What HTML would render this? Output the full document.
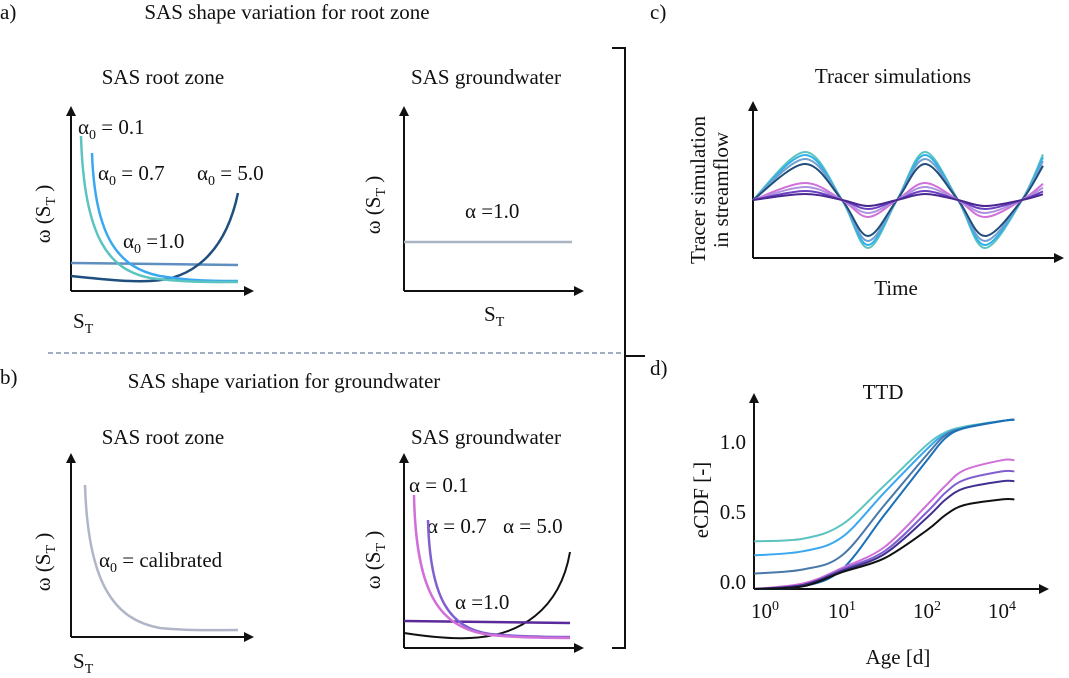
<!DOCTYPE html>
<html><head><meta charset="utf-8"><style>
body{margin:0;background:#fff;}
svg{display:block;}
svg text{font-family:"Liberation Serif","Noto Serif CJK SC","DejaVu Serif",serif !important;fill:#111;}
</style></head><body>
<svg id="fig" width="1069" height="678" viewBox="0 0 1069 678">
<defs><marker id="ar" markerWidth="10" markerHeight="10" refX="8" refY="5" orient="auto" markerUnits="userSpaceOnUse"><path d="M0,0 L10,5 L0,10 Z" fill="#111"/></marker></defs>
<g font-size="21">
<text x="0" y="19">a)</text>
<text x="287" y="19" text-anchor="middle">SAS shape variation for root zone</text>
<text x="0" y="384">b)</text>
<text x="284" y="388" text-anchor="middle">SAS shape variation for groundwater</text>
<text x="650" y="19">c)</text>
<text x="650" y="375">d)</text>
<text x="163" y="84" text-anchor="middle">SAS root zone</text>
<text x="486" y="84" text-anchor="middle">SAS groundwater</text>
<text x="163" y="444" text-anchor="middle">SAS root zone</text>
<text x="486" y="444" text-anchor="middle">SAS groundwater</text>
<text x="893" y="83" text-anchor="middle">Tracer simulations</text>
<text x="883" y="399" text-anchor="middle">TTD</text>
</g>
<line x1="48" y1="353" x2="622" y2="353" stroke="#8090b0" stroke-width="1.5" stroke-dasharray="5,3"/>
<path d="M612,48 H625 V648 H612 M625,356 H645" fill="none" stroke="#111" stroke-width="2"/>
<g stroke="#111" stroke-width="2" fill="none" marker-end="url(#ar)">
<path d="M71,291 V108"/><path d="M71,291 H252"/>
<path d="M404,291 V108"/><path d="M404,291 H582"/>
<path d="M71,637 V455"/><path d="M71,637 H252"/>
<path d="M404,648 V455"/><path d="M404,648 H582"/>
<path d="M753,258 V103"/><path d="M753,258 H1062"/>
<path d="M754,589 V395"/><path d="M754,589 H1047"/>
</g>
<g font-size="21">
<text transform="translate(50,214) rotate(-90)" text-anchor="middle">ω (S<tspan font-size="14" dy="5">T</tspan><tspan dy="-5"> )</tspan></text>
<text transform="translate(380,205) rotate(-90)" text-anchor="middle">ω (S<tspan font-size="14" dy="5">T</tspan><tspan dy="-5"> )</tspan></text>
<text transform="translate(50,562) rotate(-90)" text-anchor="middle">ω (S<tspan font-size="14" dy="5">T</tspan><tspan dy="-5"> )</tspan></text>
<text transform="translate(380,560) rotate(-90)" text-anchor="middle">ω (S<tspan font-size="14" dy="5">T</tspan><tspan dy="-5"> )</tspan></text>
<text x="73" y="328">S<tspan font-size="14" dy="5">T</tspan></text>
<text x="484" y="321">S<tspan font-size="14" dy="5">T</tspan></text>
<text x="73" y="668">S<tspan font-size="14" dy="5">T</tspan></text>
<text transform="translate(705,190) rotate(-90)" text-anchor="middle">Tracer simulation</text>
<text transform="translate(728,190) rotate(-90)" text-anchor="middle">in streamflow</text>
<text x="896" y="295" text-anchor="middle">Time</text>
<text transform="translate(708,500) rotate(-90)" text-anchor="middle">eCDF [-]</text>
<text x="898" y="664" text-anchor="middle">Age [d]</text>
<text x="78" y="134">α<tspan font-size="14" dy="5">0</tspan><tspan dy="-5"> = 0.1</tspan></text>
<text x="98" y="180">α<tspan font-size="14" dy="5">0</tspan><tspan dy="-5"> = 0.7</tspan></text>
<text x="197" y="180">α<tspan font-size="14" dy="5">0</tspan><tspan dy="-5"> = 5.0</tspan></text>
<text x="123" y="248">α<tspan font-size="14" dy="5">0</tspan><tspan dy="-5"> =1.0</tspan></text>
<text x="465" y="218">α =1.0</text>
<text x="99" y="567">α<tspan font-size="14" dy="5">0</tspan><tspan dy="-5"> = calibrated</tspan></text>
<text x="409" y="492">α = 0.1</text>
<text x="427" y="533">α = 0.7</text>
<text x="503" y="533">α = 5.0</text>
<text x="455" y="609">α =1.0</text>
</g>
<g fill="none" stroke-width="2.5">
<path d="M71,263 L238,265" stroke="#5f8fc0"/>
<path d="M71,276 C110,280 130,282 150,281 C190,280 225,255 238,193" stroke="#1f4f7f"/>
<path d="M92,153 C95,240 120,268 160,276 C190,281 215,281 238,281" stroke="#3aa8f0"/>
<path d="M81,136 C84,240 110,270 150,278 C190,283 215,282 238,282" stroke="#5cc4c0"/>
<path d="M404,242 L572,242" stroke="#a9b4c2"/>
<path d="M85,485 C88,585 115,620 160,628 C190,631 215,630 238,630" stroke="#b0b6c8"/>
<path d="M404,633 C430,637 450,639 470,638 C520,636 560,610 570,552" stroke="#111" stroke-width="2"/>
<path d="M404,621 L570,623" stroke="#5a2a9a"/>
<path d="M428,520 C430,600 450,628 490,634 C520,637 550,637 570,637" stroke="#8060d0"/>
<path d="M414,495 C416,595 440,628 490,635 C520,638 550,638 570,638" stroke="#d070d8"/>
</g>
<g id="tracer" fill="none" stroke-width="2"></g>
<g id="ttd" fill="none" stroke-width="2"></g>
<g id="ttdticks" font-size="21"></g>
</svg>
<script>
// Panel c data
const tracerTimes=[0,5.2,8.9,11.5,14.4,17.2,20.5,23.2,26.9,29];
const tracerWave=[0,1,0,-1,0,1,0,-1,0,0.95];
const tracerAmps=[48,45,41,36,17,13,9,6];
const tracerColors=["#5cc4c0","#30b0e8","#70a0d0","#204e7a","#d070d8","#b090e0","#6a40c0","#4a2890"];
// Panel d data
const ttdLogAge=[-0.14,0.5,1,1.5,2,2.5,3,4,4.33];
const ttdSeries=[
[0.29,0.31,0.41,0.69,0.98,1.07,1.11,1.15,1.16],
[0.19,0.22,0.32,0.64,0.95,1.06,1.10,1.15,1.16],
[0.06,0.09,0.19,0.55,0.91,1.05,1.10,1.15,1.16],
[-0.05,-0.03,0.09,0.48,0.87,1.03,1.10,1.15,1.16],
[-0.05,-0.01,0.10,0.25,0.55,0.69,0.80,0.87,0.87],
[-0.05,-0.02,0.09,0.22,0.50,0.64,0.73,0.79,0.79],
[-0.05,-0.02,0.08,0.20,0.46,0.59,0.67,0.72,0.72],
[-0.05,-0.03,0.07,0.17,0.37,0.48,0.55,0.59,0.59]];
const ttdColors=["#5cc4c0","#3aa8f0","#4a78a8","#1a70b8","#d070d8","#8060d0","#403090","#111"];
const ttdYTicks=[0,0.5,1.0];
const ttdXTicks=[0,1,2,4];
const ttdXTickLabels=["0","1","2","4"];

const NS="http://www.w3.org/2000/svg";
function cr(pts){let d="M"+pts[0][0]+","+pts[0][1];
for(let i=0;i<pts.length-1;i++){const p0=pts[Math.max(0,i-1)],p1=pts[i],p2=pts[i+1],p3=pts[Math.min(pts.length-1,i+2)];
d+=" C"+(p1[0]+(p2[0]-p0[0])/6)+","+(p1[1]+(p2[1]-p0[1])/6)+" "+(p2[0]-(p3[0]-p1[0])/6)+","+(p2[1]-(p3[1]-p1[1])/6)+" "+p2[0]+","+p2[1];}
return d;}
const cx=t=>753+t*10;
const cy=(v,a)=>200-v*a;
const tg=document.getElementById('tracer');
tracerAmps.forEach((a,i)=>{const p=document.createElementNS(NS,'path');
p.setAttribute('d',cr(tracerTimes.map((t,j)=>[cx(t),cy(tracerWave[j],a)])));
p.setAttribute('stroke',tracerColors[i]);


tg.appendChild(p);});
const lx=[0,1,2,4],px=[765,842,927,1002];
function dx(l){let i=0;if(l>=lx[3])i=2;else{while(i<2&&l>lx[i+1])i++;}
return px[i]+(l-lx[i])*(px[i+1]-px[i])/(lx[i+1]-lx[i]);}
const dy=v=>582-v*140;
const dg=document.getElementById('ttd');
ttdSeries.forEach((s,i)=>{const p=document.createElementNS(NS,'path');
p.setAttribute('d',cr(s.map((v,j)=>[dx(ttdLogAge[j]),dy(v)])));
p.setAttribute('stroke',ttdColors[i]);


dg.appendChild(p);});
const kg=document.getElementById('ttdticks');
ttdYTicks.forEach(v=>{const t=document.createElementNS(NS,'text');
t.setAttribute('x',746);t.setAttribute('y',dy(v)+7);t.setAttribute('text-anchor','end');
t.textContent=v.toFixed(1);


kg.appendChild(t);});
ttdXTicks.forEach((l,i)=>{const t=document.createElementNS(NS,'text');
t.setAttribute('x',dx(l));t.setAttribute('y',618);t.setAttribute('text-anchor','middle');
t.innerHTML='10<tspan font-size="14" dy="-8">'+ttdXTickLabels[i]+'</tspan>';


kg.appendChild(t);});
</script>
</body></html>
